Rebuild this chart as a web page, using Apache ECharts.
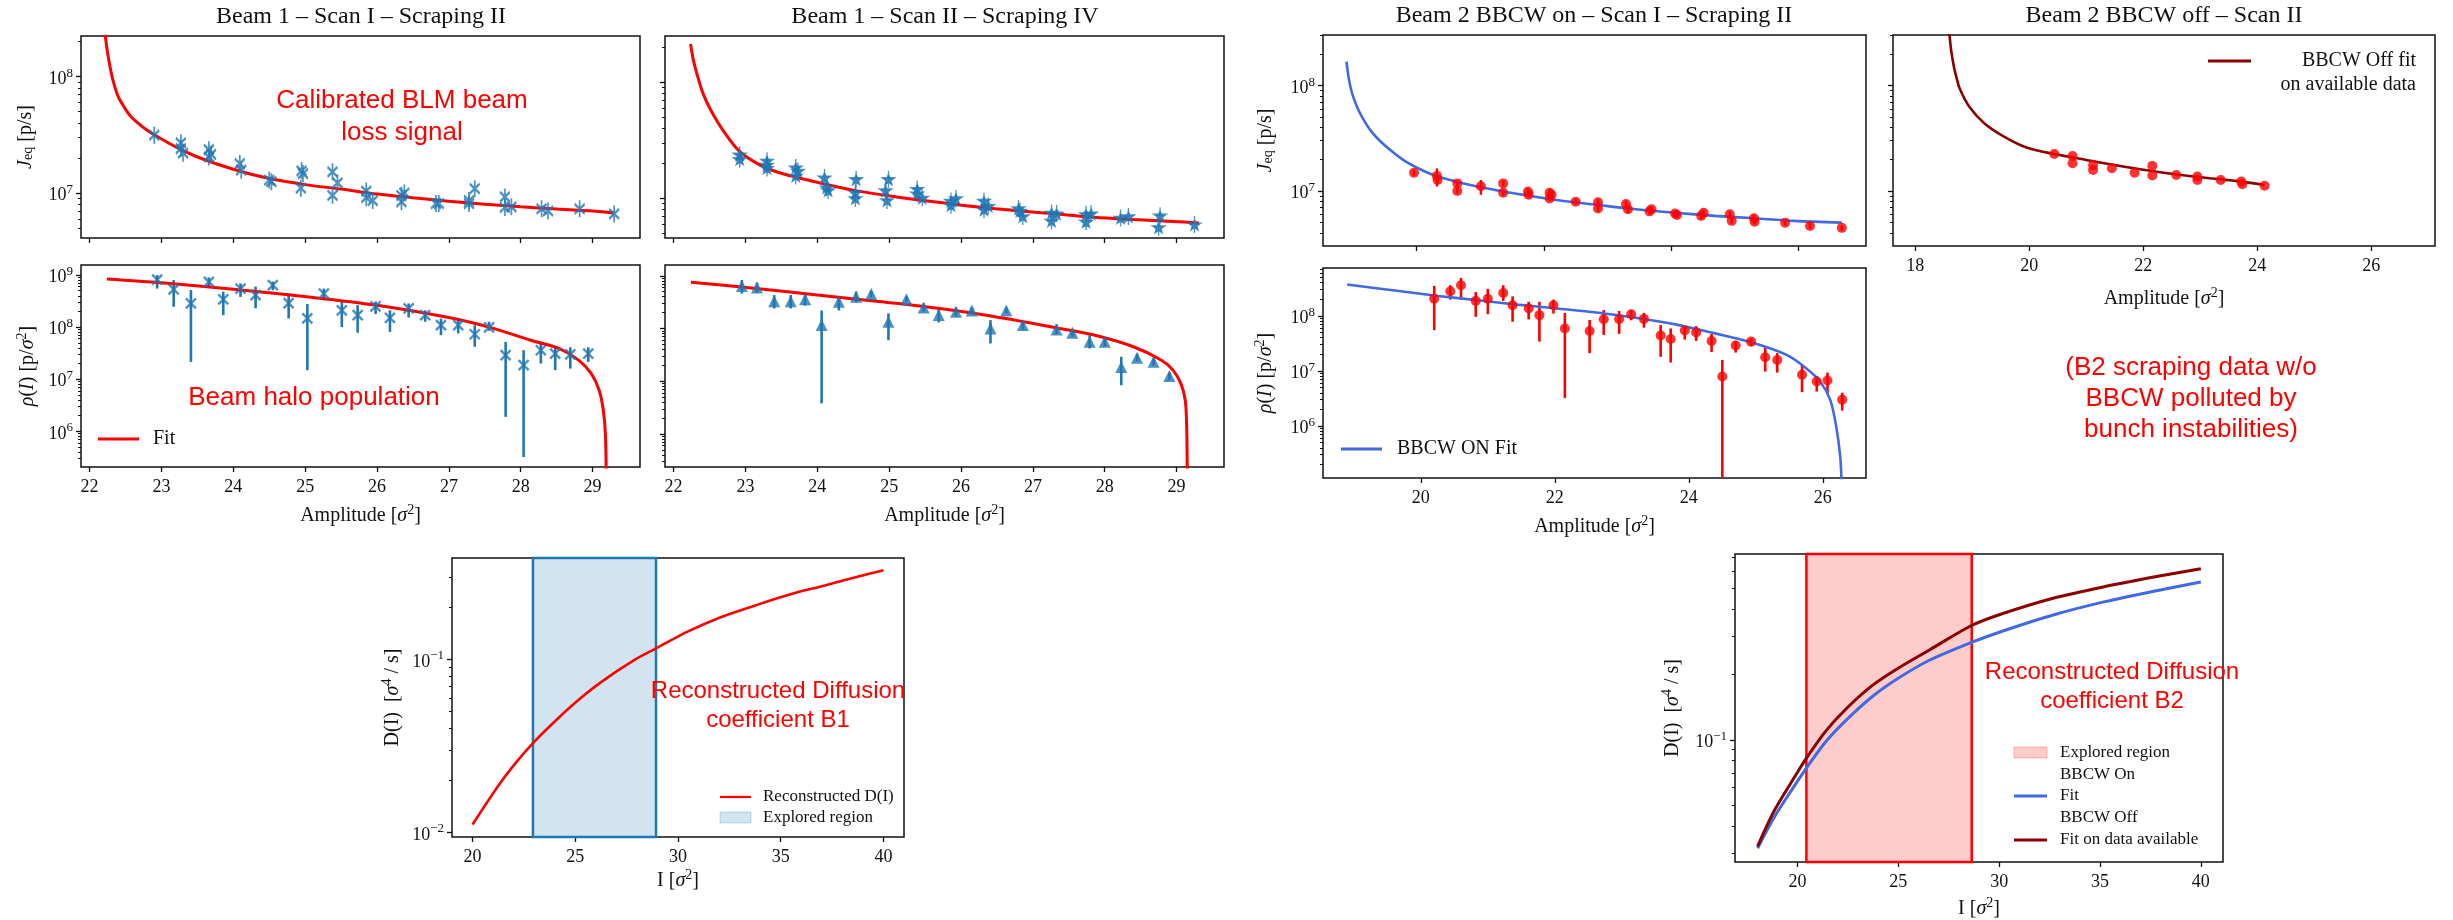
<!DOCTYPE html>
<html>
<head>
<meta charset="utf-8">
<script src="https://cdn.jsdelivr.net/npm/echarts@6/dist/echarts.min.js"></script>
<style>
  html, body { margin: 0; padding: 0; background: #fff; }
  #chart { width: 2453px; height: 920px; }
</style>
</head>
<body>
<div id="chart"></div>
<script>
// ---------------- Beam 1, scan I (scraping II) ----------------
const b1s1JeqAmp = [22.90, 23.27, 23.27, 23.30, 23.66, 23.69, 23.66, 24.09, 24.11, 24.50, 24.53, 24.95, 24.97, 24.94, 25.38, 25.45, 25.38, 25.85, 25.85, 25.94, 26.34, 26.38, 26.34, 26.82, 26.86, 27.28, 27.28, 27.36, 27.78, 27.78, 27.87, 28.29, 28.38, 28.82, 29.30];
const b1s1Jeq = [3.14e7, 2.7e7, 2.41e7, 2.2e7, 2.36e7, 2.15e7, 2.04e7, 1.79e7, 1.57e7, 1.29e7, 1.25e7, 1.55e7, 1.47e7, 1.10e7, 1.52e7, 1.22e7, 9.55e6, 1.04e7, 9.1e6, 8.6e6, 9.55e6, 1.0e7, 8.4e6, 8.1e6, 8.1e6, 8.6e6, 8.1e6, 1.09e7, 9.25e6, 7.5e6, 7.6e6, 7.3e6, 7.0e6, 7.3e6, 6.6e6];
const b1s1JeqFitAmp = [22.216, 22.244, 22.284, 22.33, 22.398, 22.483, 22.568, 22.682, 22.795, 22.909, 23.2, 23.5, 24.0, 24.5, 25.0, 25.5, 26.0, 26.5, 27.0, 27.5, 28.0, 28.5, 29.0, 29.3];
const b1s1JeqFit = [2.3e8, 1.7e8, 1.22e8, 9.06e7, 6.73e7, 5.45e7, 4.6e7, 3.95e7, 3.48e7, 3.14e7, 2.49e7, 2.04e7, 1.6e7, 1.33e7, 1.18e7, 1.08e7, 9.8e6, 9.1e6, 8.5e6, 8.0e6, 7.6e6, 7.28e6, 7.0e6, 6.72e6];

const b1s1RhoAmp = [22.94, 23.17, 23.41, 23.66, 23.86, 24.10, 24.31, 24.55, 24.77, 25.03, 25.26, 25.51, 25.73, 25.98, 26.18, 26.44, 26.67, 26.89, 27.13, 27.36, 27.56, 27.79, 28.04, 28.28, 28.48, 28.69, 28.94];
const b1s1Rho = [8.2e8, 5.3e8, 2.85e8, 7.4e8, 3.4e8, 5.5e8, 4.1e8, 6.4e8, 2.9e8, 1.47e8, 4.4e8, 2.1e8, 1.7e8, 2.5e8, 1.5e8, 2.3e8, 1.7e8, 1.09e8, 1.09e8, 7.3e7, 9.9e7, 2.9e7, 1.86e7, 3.6e7, 3.1e7, 3.0e7, 3.1e7];
const b1s1RhoLo = [5.5e8, 2.46e8, 2.15e7, 6.0e8, 1.7e8, 3.8e8, 2.3e8, 5.1e8, 1.47e8, 1.49e7, 3.3e8, 1.0e8, 7.8e7, 1.78e8, 8.1e7, 1.53e8, 1.27e8, 7.0e7, 7.6e7, 4.2e7, 8.5e7, 1.89e6, 3.2e5, 2.0e7, 1.49e7, 1.6e7, 2.15e7];
const b1s1RhoHi = [1.0e9, 8.0e8, 5.15e8, 9.0e8, 4.8e8, 6.9e8, 6.0e8, 7.5e8, 4.4e8, 2.77e8, 5.5e8, 3.2e8, 2.65e8, 3.1e8, 2.1e8, 2.85e8, 2.1e8, 1.46e8, 1.46e8, 1.09e8, 1.27e8, 5.2e7, 3.6e7, 5.2e7, 4.2e7, 4.1e7, 4.1e7];
const b1s1RhoFitAmp = [22.24, 23.0, 24.11, 25.02, 25.98, 27.0, 27.57, 28.14, 28.53, 28.81, 28.98, 29.09, 29.15, 29.18, 29.19];
const b1s1RhoFit = [8.4e8, 7.1e8, 5.15e8, 3.83e8, 2.65e8, 1.53e8, 9.9e7, 5.6e7, 3.9e7, 2.3e7, 1.29e7, 6.2e6, 2.5e6, 8e5, 1e5];

// ---------------- Beam 1, scan II (scraping IV) ----------------
const b1s2JeqAmp = [22.92, 22.92, 23.30, 23.30, 23.30, 23.70, 23.73, 23.70, 24.10, 24.13, 24.15, 24.54, 24.53, 24.53, 24.95, 24.97, 24.99, 25.39, 25.39, 25.46, 25.86, 25.86, 25.93, 26.32, 26.32, 26.38, 26.80, 26.82, 26.86, 27.26, 27.26, 27.33, 27.74, 27.74, 27.81, 28.22, 28.33, 28.77, 28.75, 29.25];
const b1s2Jeq = [2.37e7, 2.17e7, 2.1e7, 1.94e7, 1.82e7, 1.84e7, 1.72e7, 1.56e7, 1.51e7, 1.24e7, 1.17e7, 1.46e7, 1.12e7, 1.0e7, 1.17e7, 9.6e6, 1.46e7, 1.2e7, 1.1e7, 1.01e7, 9.5e6, 8.75e6, 1.0e7, 9.5e6, 8.0e6, 8.6e6, 8.2e6, 7.8e6, 7.0e6, 7.5e6, 6.4e6, 7.4e6, 7.3e6, 6.3e6, 7.4e6, 6.8e6, 7.0e6, 7.1e6, 5.65e6, 5.96e6];
const b1s2JeqFitAmp = [22.236, 22.275, 22.33, 22.41, 22.52, 22.69, 22.91, 23.18, 23.46, 24.01, 24.55, 25.10, 25.65, 26.2, 26.75, 27.3, 27.85, 28.4, 28.95, 29.31];
const b1s2JeqFit = [2.12e8, 1.54e8, 1.14e8, 7.93e7, 5.69e7, 3.82e7, 2.56e7, 1.97e7, 1.67e7, 1.37e7, 1.16e7, 1.03e7, 9.3e6, 8.47e6, 7.87e6, 7.37e6, 6.9e6, 6.59e6, 6.33e6, 6.16e6];

const b1s2RhoAmp = [22.95, 23.16, 23.40, 23.63, 23.83, 24.06, 24.30, 24.54, 24.75, 24.99, 25.24, 25.48, 25.69, 25.93, 26.15, 26.41, 26.63, 26.86, 27.33, 27.55, 27.79, 28.0, 28.23, 28.45, 28.68, 28.9];
const b1s2Rho = [6.4e8, 6.0e8, 3.3e8, 3.3e8, 3.6e8, 1.16e8, 3.2e8, 4.0e8, 4.5e8, 1.34e8, 3.6e8, 2.5e8, 1.8e8, 2.07e8, 2.2e8, 1.0e8, 2.2e8, 1.16e8, 9.6e7, 8.3e7, 5.6e7, 5.6e7, 1.87e7, 2.8e7, 2.33e7, 1.25e7];
const b1s2RhoLo = [4.6e8, 4.8e8, 2.4e8, 2.4e8, 2.7e8, 3.8e6, 2.2e8, 3.1e8, 3.9e8, 6.0e7, 3.2e8, 2.1e8, 1.3e8, 1.7e8, 1.9e8, 5.2e7, 1.95e8, 9.5e7, 7.8e7, 7.0e7, 4.2e7, 4.6e7, 8.4e6, 2.4e7, 2.0e7, 1.05e7];
const b1s2RhoHi = [8.3e8, 7.4e8, 4.3e8, 4.3e8, 4.5e8, 2.2e8, 4.0e8, 5.0e8, 5.2e8, 1.93e8, 4.1e8, 3.0e8, 2.4e8, 2.5e8, 2.5e8, 1.44e8, 2.5e8, 1.4e8, 1.2e8, 9.6e7, 7.4e7, 6.8e7, 2.9e7, 3.3e7, 2.7e7, 1.45e7];
const b1s2RhoFitAmp = [22.24, 22.91, 24.0, 25.1, 26.2, 26.75, 27.3, 27.85, 28.4, 28.79, 28.95, 29.06, 29.12, 29.14, 29.15];
const b1s2RhoFit = [7.5e8, 6.2e8, 4.3e8, 3.0e8, 1.93e8, 1.44e8, 1.04e8, 7.5e7, 4.5e7, 2.5e7, 1.62e7, 9e6, 4.4e6, 1.5e6, 1e5];

// ---------------- Beam 2, BBCW on (scan I, scraping II) ----------------
const b2onJeqAmp = [19.96, 20.32, 20.33, 20.64, 20.64, 21.01, 21.36, 21.36, 21.75, 21.76, 22.09, 22.12, 22.09, 22.50, 22.85, 22.85, 23.29, 23.32, 23.66, 23.69, 24.06, 24.09, 24.47, 24.51, 24.92, 24.95, 25.30, 25.31, 25.79, 26.18, 26.68];
const b2onJeq = [1.49e7, 1.39e7, 1.27e7, 1.18e7, 1.0e7, 1.11e7, 1.18e7, 9.6e6, 9.9e6, 9.2e6, 9.6e6, 9.2e6, 8.5e6, 7.9e6, 7.8e6, 6.8e6, 7.5e6, 6.7e6, 6.4e6, 6.7e6, 6.1e6, 5.9e6, 5.8e6, 6.2e6, 6.0e6, 5.2e6, 5.5e6, 5.1e6, 5.0e6, 4.65e6, 4.46e6];
const b2onJeqLo = [1.40e7, 1.10e7, 1.17e7, 1.10e7, 9.4e6, 9.2e6, 1.10e7, 9.0e6, 9.2e6, 8.6e6, 8.8e6, 8.6e6, 8.0e6, 7.4e6, 7.2e6, 6.3e6, 7.0e6, 6.2e6, 6.0e6, 6.3e6, 5.7e6, 5.5e6, 5.4e6, 5.8e6, 5.6e6, 4.9e6, 5.1e6, 4.8e6, 4.7e6, 4.35e6, 4.2e6];
const b2onJeqHi = [1.58e7, 1.64e7, 1.37e7, 1.26e7, 1.07e7, 1.27e7, 1.26e7, 1.03e7, 1.06e7, 9.8e6, 1.05e7, 9.8e6, 9.0e6, 8.4e6, 8.4e6, 7.3e6, 8.1e6, 7.2e6, 6.8e6, 7.1e6, 6.5e6, 6.3e6, 6.2e6, 6.6e6, 6.4e6, 5.5e6, 5.9e6, 5.4e6, 5.3e6, 4.95e6, 4.7e6];
const b2onJeqFitAmp = [18.899, 18.93, 18.973, 19.023, 19.085, 19.18, 19.30, 19.46, 19.65, 19.83, 20.08, 20.33, 20.95, 21.57, 22.2, 22.82, 23.44, 24.06, 24.69, 25.31, 25.93, 26.68];
const b2onJeqFit = [1.69e8, 1.22e8, 9.1e7, 7.3e7, 5.9e7, 4.6e7, 3.6e7, 2.85e7, 2.28e7, 1.90e7, 1.58e7, 1.37e7, 1.1e7, 9.4e6, 8.2e6, 7.4e6, 6.7e6, 6.2e6, 5.8e6, 5.5e6, 5.2e6, 5.0e6];

const b2onRhoAmp = [20.20, 20.44, 20.60, 20.82, 21.00, 21.23, 21.37, 21.61, 21.77, 21.98, 22.15, 22.52, 22.73, 22.96, 23.14, 23.33, 23.58, 23.73, 23.94, 24.11, 24.34, 24.50, 24.70, 24.93, 25.14, 25.32, 25.69, 25.91, 26.07, 26.29];
const b2onRho = [2.05e8, 2.8e8, 3.6e8, 1.87e8, 2.05e8, 2.6e8, 1.56e8, 1.36e8, 1.03e8, 1.56e8, 5.9e7, 5.3e7, 8.7e7, 8.7e7, 1.07e8, 8.8e7, 4.4e7, 3.8e7, 5.4e7, 5.0e7, 3.5e7, 7.9e6, 2.9e7, 3.4e7, 1.77e7, 1.58e7, 8.5e6, 6.4e6, 6.7e6, 3.0e6];
const b2onRhoLo = [5.5e7, 1.97e8, 1.97e8, 9.6e7, 1.07e8, 1.87e8, 7.8e7, 8.6e7, 3.4e7, 1.1e8, 3.2e6, 2.1e7, 4.5e7, 4.7e7, 8.3e7, 6.1e7, 1.8e7, 1.42e7, 3.7e7, 3.5e7, 2.2e7, 1e5, 2.15e7, 2.8e7, 9.7e6, 9.3e6, 4.1e6, 4.2e6, 3.9e6, 1.9e6];
const b2onRhoHi = [3.5e8, 3.6e8, 4.9e8, 2.7e8, 3.1e8, 3.6e8, 2.26e8, 1.8e8, 1.8e8, 1.97e8, 1.13e8, 8.4e7, 1.27e8, 1.23e8, 1.27e8, 1.13e8, 6.8e7, 5.9e7, 6.3e7, 6.5e7, 4.7e7, 1.58e7, 3.5e7, 3.9e7, 2.7e7, 2.1e7, 1.28e7, 8.1e6, 9.3e6, 4.0e6];
const b2onRhoFitAmp = [18.90, 19.67, 20.26, 20.85, 21.44, 22.03, 22.62, 23.21, 23.80, 24.39, 24.93, 25.46, 25.75, 25.96, 26.11, 26.20, 26.26, 26.28];
const b2onRhoFit = [3.7e8, 2.83e8, 2.3e8, 1.92e8, 1.6e8, 1.36e8, 1.15e8, 9.2e7, 7.0e7, 4.8e7, 3.3e7, 1.95e7, 1.12e7, 6.4e6, 3.0e6, 9.9e5, 2.8e5, 1e5];

// ---------------- Beam 2, BBCW off (scan II) ----------------
const b2offJeqAmp = [20.44, 20.76, 20.76, 21.12, 21.12, 21.45, 21.85, 22.16, 22.16, 22.58, 22.95, 22.95, 23.36, 23.72, 23.74, 24.13];
const b2offJeq = [2.24e7, 2.15e7, 1.83e7, 1.76e7, 1.58e7, 1.64e7, 1.49e7, 1.73e7, 1.40e7, 1.42e7, 1.37e7, 1.27e7, 1.27e7, 1.23e7, 1.16e7, 1.12e7];
const b2offJeqFitAmp = [18.60, 18.63, 18.68, 18.72, 18.78, 18.95, 19.21, 19.55, 19.94, 20.44, 21.0, 21.67, 22.33, 23.0, 23.66, 24.13];
const b2offJeqFit = [3.1e8, 2.18e8, 1.5e8, 1.22e8, 9.4e7, 6.3e7, 4.4e7, 3.3e7, 2.6e7, 2.24e7, 1.97e7, 1.70e7, 1.50e7, 1.35e7, 1.24e7, 1.14e7];

// ---------------- Reconstructed diffusion coefficients ----------------
const diffB1I = [20, 21.21, 22.05, 22.94, 23.72, 24.98, 26.24, 27.92, 28.93, 30.44, 32.11, 33.79, 35.47, 37.15, 38.83, 40.0];
const diffB1D = [0.0111, 0.0183, 0.0248, 0.0328, 0.0407, 0.0560, 0.0737, 0.100, 0.1158, 0.1444, 0.176, 0.2057, 0.238, 0.268, 0.303, 0.328];
const b1Explored = [22.94, 28.93];

const diffB2I = [18.02, 18.84, 19.87, 20.44, 21.41, 22.44, 23.73, 25.01, 26.56, 28.61, 30.15, 32.72, 35.30, 37.87, 40.0];
const diffB2On = [0.0315, 0.0437, 0.0617, 0.074, 0.0982, 0.124, 0.159, 0.193, 0.234, 0.282, 0.318, 0.379, 0.437, 0.491, 0.537];
const diffB2Off = [0.0321, 0.0468, 0.0676, 0.0822, 0.110, 0.140, 0.179, 0.215, 0.261, 0.337, 0.383, 0.453, 0.513, 0.571, 0.619];
const b2Explored = [20.44, 28.64];

// ---------------- tick values ----------------
const b1AmpTicks = [22, 23, 24, 25, 26, 27, 28, 29];
const b2onAmpTicks = [20, 22, 24, 26];
const b2offAmpTicks = [18, 20, 22, 24, 26];
const diffITicks = [20, 25, 30, 35, 40];
const jeqTicks = [1e7, 1e8];
const rhoTicks = [1e6, 1e7, 1e8, 1e9];
const diffB1Ticks = [1e-2, 1e-1];
const diffB2Ticks = [1e-1];

// ---------------- styling helpers ----------------
const SERIF = "'Liberation Serif','DejaVu Serif',serif";
const SANS = "'Liberation Sans','DejaVu Sans',sans-serif";
const INK = '#111';
const TAB_BLUE = '#1f77b4', RED = '#ff0000', ROYAL = '#4169e1', DARKRED = '#8b0000';

const NAME_RICH = {
  r:   {fontFamily: SERIF, fontSize: 20, lineHeight: 22, padding: [4, 0, 0, 0], verticalAlign: 'middle', color: INK},
  i:   {fontFamily: SERIF, fontSize: 20, fontStyle: 'italic', lineHeight: 22, padding: [4, 0, 0, 0], verticalAlign: 'middle', color: INK},
  sup: {fontFamily: SERIF, fontSize: 14, lineHeight: 14, verticalAlign: 'top', color: INK},
  sub: {fontFamily: SERIF, fontSize: 14, lineHeight: 14, verticalAlign: 'bottom', color: INK}
};
const TICK_RICH = {
  b: {fontFamily: SERIF, fontSize: 18, lineHeight: 20, padding: [5, 0, 0, 0], verticalAlign: 'middle', color: INK},
  s: {fontFamily: SERIF, fontSize: 13, lineHeight: 13, verticalAlign: 'top', color: INK}
};

const AMP_NAME = '{r|Amplitude [}{i|σ}{sup|2}{r|]}';
const JEQ_NAME = '{i|J}{sub|eq}{r| [p/s]}';
const RHO_NAME = '{i|ρ}{r|(}{i|I}{r|) [p/}{i|σ}{sup|2}{r|]}';
const D_NAME = '{r|D(I)  [}{i|σ}{sup|4}{r| / s]}';
const I_NAME = '{r|I [}{i|σ}{sup|2}{r|]}';

function pow10Label(v) {
  const e = Math.round(Math.log10(v));
  return '{b|10}{s|' + (e < 0 ? '\u2212' + (-e) : e) + '}';
}
function minorDecadeTicks(lim) {
  const out = [];
  for (let e = Math.floor(Math.log10(lim[0])); e <= Math.ceil(Math.log10(lim[1])); e++) {
    for (let k = 2; k <= 9; k++) {
      const v = k * Math.pow(10, e);
      if (v > lim[0] && v < lim[1]) out.push(v);
    }
  }
  return out;
}

// panel layout: grid rectangle, axis limits, ticks and labels
const panels = [
  {rect: [81, 36, 559, 202],   xlim: [21.88, 29.66], xt: b1AmpTicks, xl: false, ylim: [4.1e6, 2.24e8], yt: jeqTicks, yl: true, yname: JEQ_NAME, ygap: 46},
  {rect: [665, 36, 559, 202],  xlim: [21.88, 29.66], xt: b1AmpTicks, xl: false, ylim: [4.57e6, 2.48e8], yt: jeqTicks, yl: false},
  {rect: [81, 265, 559, 202],  xlim: [21.88, 29.66], xt: b1AmpTicks, xl: true, xname: AMP_NAME, xgap: 36, ylim: [2.06e5, 1.56e9], yt: rhoTicks, yl: true, yname: RHO_NAME, ygap: 44},
  {rect: [665, 265, 559, 202], xlim: [21.88, 29.66], xt: b1AmpTicks, xl: true, xname: AMP_NAME, xgap: 36, ylim: [2.36e5, 1.6e9], yt: rhoTicks, yl: false},
  {rect: [1323, 35, 543, 211], xlim: [18.53, 27.06], xt: b2onAmpTicks, xl: false, ylim: [3.0e6, 3.03e8], yt: jeqTicks, yl: true, yname: JEQ_NAME, ygap: 48},
  {rect: [1323, 268, 543, 210], xlim: [18.54, 26.645], xt: b2onAmpTicks, xl: true, xname: AMP_NAME, xgap: 36, ylim: [1.13e5, 7.4e8], yt: rhoTicks, yl: true, yname: RHO_NAME, ygap: 48},
  {rect: [1893, 35, 542, 211], xlim: [17.61, 27.12], xt: b2offAmpTicks, xl: true, xname: AMP_NAME, xgap: 40, ylim: [3.0e6, 3.03e8], yt: jeqTicks, yl: false},
  {rect: [452, 558, 452, 279], xlim: [19, 41], xt: diffITicks, xl: true, xname: I_NAME, xgap: 31, ylim: [0.0094, 0.386], yt: diffB1Ticks, yl: true, yname: D_NAME, ygap: 50},
  {rect: [1735, 554, 488, 308], xlim: [16.9, 41.1], xt: diffITicks, xl: true, xname: I_NAME, xgap: 34, ylim: [0.0272, 0.724], yt: diffB2Ticks, yl: true, yname: D_NAME, ygap: 53}
];

const grids = panels.map(p => ({
  left: p.rect[0], top: p.rect[1], width: p.rect[2], height: p.rect[3],
  show: true, borderColor: INK, borderWidth: 1.5, backgroundColor: 'transparent',
  containLabel: false, outerBoundsMode: 'none'
}));

const xAxes = panels.map((p, gi) => ({
  type: 'value', gridIndex: gi, min: p.xlim[0], max: p.xlim[1],
  axisLine: {show: false, onZero: false},
  axisTick: {show: true, length: 5, lineStyle: {color: INK, width: 1.3}, customValues: p.xt},
  axisLabel: {show: p.xl, customValues: p.xt, margin: 11, fontFamily: SERIF, fontSize: 18, color: INK},
  splitLine: {show: false},
  name: p.xname || '', nameLocation: 'middle', nameGap: p.xgap || 30,
  nameTextStyle: {rich: NAME_RICH}
}));

const yAxes = panels.map((p, gi) => ({
  type: 'log', logBase: 10, gridIndex: gi, position: 'left', min: p.ylim[0], max: p.ylim[1],
  axisLine: {show: false},
  axisTick: {show: true, length: 5, lineStyle: {color: INK, width: 1.3}, customValues: p.yt},
  axisLabel: {show: p.yl, customValues: p.yt, formatter: pow10Label, rich: TICK_RICH, margin: 8},
  splitLine: {show: false}, minorTick: {show: false}, minorSplitLine: {show: false},
  name: p.yname || '', nameLocation: 'middle', nameGap: p.ygap || 40, nameRotate: 90,
  nameTextStyle: {rich: NAME_RICH}
})).concat(panels.map((p, gi) => ({
  // log-decade minor ticks
  type: 'log', logBase: 10, gridIndex: gi, position: 'left', min: p.ylim[0], max: p.ylim[1],
  axisLine: {show: false},
  axisTick: {show: true, length: 3, lineStyle: {color: INK, width: 1}, customValues: minorDecadeTicks(p.ylim)},
  axisLabel: {show: false}, splitLine: {show: false}
})));

// ---------------- series builders ----------------
function pairs(xs, ys) { return xs.map((x, i) => [x, ys[i]]); }
function fitLine(gi, xs, ys, color, width, extra) {
  return Object.assign({
    type: 'line', xAxisIndex: gi, yAxisIndex: gi, data: pairs(xs, ys),
    showSymbol: false, symbol: 'none', smooth: 0.3,
    lineStyle: {color: color, width: width}, z: 3, silent: true, clip: true
  }, extra || {});
}
function markers(gi, xs, ys, symbol, size, itemStyle) {
  return {
    type: 'scatter', xAxisIndex: gi, yAxisIndex: gi, data: pairs(xs, ys),
    symbol: symbol, symbolSize: size, itemStyle: itemStyle, z: 4, silent: true, clip: true
  };
}
function errorBars(gi, xs, lo, hi, color, width) {
  return {
    type: 'custom', xAxisIndex: gi, yAxisIndex: gi, z: 2, silent: true, clip: true,
    data: xs.map((x, i) => [x, lo[i], hi[i]]),
    encode: {x: 0, y: [1, 2]},
    renderItem: function (params, api) {
      const a = api.coord([api.value(0), api.value(1)]);
      const b = api.coord([api.value(0), api.value(2)]);
      return {type: 'line', shape: {x1: a[0], y1: a[1], x2: b[0], y2: b[1]},
              style: {stroke: color, lineWidth: width}};
    }
  };
}

const X_BAR = 'path://M1,4L9,12M9,4L1,12M5,1L5,15';
const X_MARK = 'path://M0,0L10,10M10,0L0,10';
const STAR_BAR = 'path://M5,0L6.18,3.38L9.76,3.45L6.9,5.62L7.94,9.05L5,7L2.06,9.05L3.1,5.62L0.24,3.45L3.82,3.38ZM5,-3L5,12';

const series = [
  // Beam 1 scan I: equilibrium loss rate
  fitLine(0, b1s1JeqFitAmp, b1s1JeqFit, RED, 3),
  markers(0, b1s1JeqAmp, b1s1Jeq, X_BAR, [10, 17], {color: 'none', borderColor: TAB_BLUE, borderWidth: 2.2}),
  // Beam 1 scan II: equilibrium loss rate
  fitLine(1, b1s2JeqFitAmp, b1s2JeqFit, RED, 3),
  markers(1, b1s2JeqAmp, b1s2Jeq, STAR_BAR, [11, 17], {color: TAB_BLUE, borderColor: TAB_BLUE, borderWidth: 1.6}),
  // Beam 1 scan I: halo population
  errorBars(2, b1s1RhoAmp, b1s1RhoLo, b1s1RhoHi, TAB_BLUE, 2.6),
  fitLine(2, b1s1RhoFitAmp, b1s1RhoFit, RED, 3),
  markers(2, b1s1RhoAmp, b1s1Rho, X_MARK, 10, {color: 'none', borderColor: TAB_BLUE, borderWidth: 2.4}),
  // Beam 1 scan II: halo population
  errorBars(3, b1s2RhoAmp, b1s2RhoLo, b1s2RhoHi, TAB_BLUE, 2.6),
  fitLine(3, b1s2RhoFitAmp, b1s2RhoFit, RED, 3),
  markers(3, b1s2RhoAmp, b1s2Rho, 'triangle', 12, {color: TAB_BLUE}),
  // Beam 2 BBCW on
  errorBars(4, b2onJeqAmp, b2onJeqLo, b2onJeqHi, RED, 2.4),
  fitLine(4, b2onJeqFitAmp, b2onJeqFit, ROYAL, 2.6),
  markers(4, b2onJeqAmp, b2onJeq, 'circle', 10, {color: RED}),
  errorBars(5, b2onRhoAmp, b2onRhoLo, b2onRhoHi, RED, 2.6),
  fitLine(5, b2onRhoFitAmp, b2onRhoFit, ROYAL, 2.6),
  markers(5, b2onRhoAmp, b2onRho, 'circle', 10, {color: RED}),
  // Beam 2 BBCW off
  fitLine(6, b2offJeqFitAmp, b2offJeqFit, DARKRED, 2.6),
  markers(6, b2offJeqAmp, b2offJeq, 'circle', 10, {color: RED}),
  // Diffusion coefficient, beam 1
  fitLine(7, diffB1I, diffB1D, RED, 2.6, {
    markArea: {silent: true, itemStyle: {color: 'rgba(31,119,180,0.2)', borderColor: TAB_BLUE, borderWidth: 2.5},
               data: [[{xAxis: b1Explored[0]}, {xAxis: b1Explored[1]}]]}
  }),
  // Diffusion coefficient, beam 2
  fitLine(8, diffB2I, diffB2On, ROYAL, 3, {
    markArea: {silent: true, itemStyle: {color: 'rgba(255,0,0,0.2)', borderColor: RED, borderWidth: 2.5},
               data: [[{xAxis: b2Explored[0]}, {xAxis: b2Explored[1]}]]}
  }),
  fitLine(8, diffB2I, diffB2Off, DARKRED, 3)
];

// ---------------- titles, notes and legends ----------------
function txt(text, x, y, font, size, fill, align, vAlign, extra) {
  return {type: 'text', z: 50, silent: true, style: Object.assign({
    text: text, x: x, y: y, fontFamily: font, fontSize: size, fill: fill,
    align: align, verticalAlign: vAlign, textAlign: align, textVerticalAlign: vAlign
  }, extra || {})};
}
function seg(x1, y1, x2, color, width) {
  return {type: 'line', z: 50, silent: true, shape: {x1: x1, y1: y1, x2: x2, y2: y1}, style: {stroke: color, lineWidth: width}};
}
function patch(x, y, w, h, fill, stroke) {
  return {type: 'rect', z: 50, silent: true, shape: {x: x, y: y, width: w, height: h}, style: {fill: fill, stroke: stroke, lineWidth: 1}};
}

const graphics = [
  txt('Beam 1 – Scan I – Scraping II', 361, 17, SERIF, 24, INK, 'center', 'middle'),
  txt('Beam 1 – Scan II – Scraping IV', 945, 17, SERIF, 24, INK, 'center', 'middle'),
  txt('Beam 2 BBCW on – Scan I – Scraping II', 1594, 16, SERIF, 24, INK, 'center', 'middle'),
  txt('Beam 2 BBCW off – Scan II', 2164, 16, SERIF, 24, INK, 'center', 'middle'),

  txt('Calibrated BLM beam\nloss signal', 402, 117, SANS, 26, RED, 'center', 'middle', {lineHeight: 32}),
  txt('Beam halo population', 314, 398, SANS, 26, RED, 'center', 'middle'),
  txt('(B2 scraping data w/o\nBBCW polluted by\nbunch instabilities)', 2191, 399, SANS, 26, RED, 'center', 'middle', {lineHeight: 31}),
  txt('Reconstructed Diffusion\ncoefficient B1', 778, 706, SANS, 24, RED, 'center', 'middle', {lineHeight: 28.5}),
  txt('Reconstructed Diffusion\ncoefficient B2', 2112, 687, SANS, 24, RED, 'center', 'middle', {lineHeight: 29}),

  seg(98, 439, 139, RED, 3),
  txt('Fit', 153, 439, SERIF, 20, INK, 'left', 'middle'),
  seg(1341, 449, 1382, ROYAL, 3),
  txt('BBCW ON Fit', 1397, 449, SERIF, 20, INK, 'left', 'middle'),
  seg(2208, 61, 2251, DARKRED, 3),
  txt('BBCW Off fit\non available data', 2416, 73, SERIF, 20, INK, 'right', 'middle', {lineHeight: 24}),

  seg(720, 797, 751, RED, 2.2),
  txt('Reconstructed D(I)', 763, 797, SERIF, 17, INK, 'left', 'middle'),
  patch(720, 812, 31, 11, 'rgba(31,119,180,0.2)', 'rgba(31,119,180,0.25)'),
  txt('Explored region', 763, 818, SERIF, 17, INK, 'left', 'middle'),

  patch(2014, 747, 33, 11, 'rgba(255,0,0,0.2)', 'rgba(255,0,0,0.25)'),
  txt('Explored region', 2060, 753, SERIF, 17, INK, 'left', 'middle'),
  txt('BBCW On', 2060, 775, SERIF, 17, INK, 'left', 'middle'),
  seg(2014, 796, 2047, ROYAL, 3),
  txt('Fit', 2060, 796, SERIF, 17, INK, 'left', 'middle'),
  txt('BBCW Off', 2060, 818, SERIF, 17, INK, 'left', 'middle'),
  seg(2014, 840, 2047, DARKRED, 3),
  txt('Fit on data available', 2060, 840, SERIF, 17, INK, 'left', 'middle')
];

const chart = echarts.init(document.getElementById('chart'), null, {renderer: 'canvas'});
chart.setOption({
  animation: false,
  backgroundColor: '#ffffff',
  grid: grids,
  xAxis: xAxes,
  yAxis: yAxes,
  series: series,
  graphic: graphics
});
</script>
</body>
</html>
